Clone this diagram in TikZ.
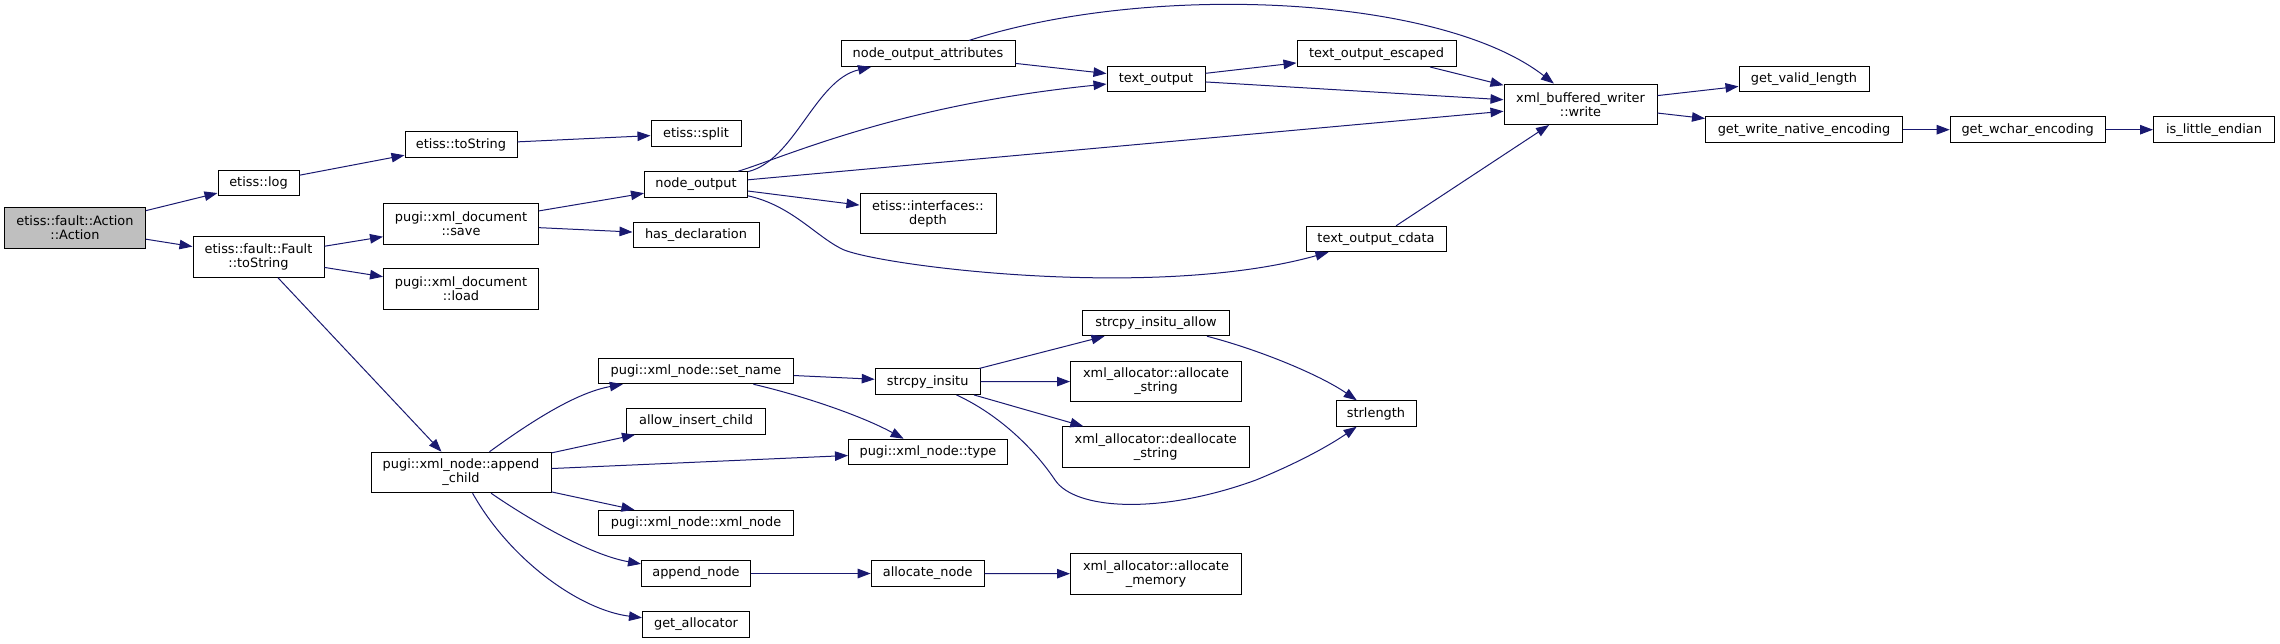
\documentclass[tikz,border=0pt]{standalone}
\usepackage{fontspec}
\setmainfont{DejaVu Sans}
\usepackage{tikz}
\usepackage{xcolor}
\usetikzlibrary{arrows.meta}
\definecolor{edgeblue}{HTML}{191970}
\definecolor{rootgrey}{HTML}{BFBFBF}

\begin{document}
\begin{tikzpicture}[x=1pt,y=-1pt,>={Triangle[length=13pt,width=9.5pt]},
  fn/.style={draw=black,line width=1pt,fill=white,inner sep=0pt,align=center,
    font=\fontsize{12.9}{14}\selectfont,minimum height=25.5},
  fn2/.style={fn,minimum height=40.5},
  calls/.style={->,edgeblue,line width=1pt}]
  \useasboundingbox (0,0) rectangle (2280,643);

  \node[fn2,fill=rootgrey,minimum width=141] (act) at (75,228) {etiss::fault::Action\\::Action};
  \node[fn,minimum width=81] (elog) at (258.5,183) {etiss::log};
  \node[fn2,minimum width=131] (fts) at (258.5,257) {etiss::fault::Fault\\::toString};
  \node[fn,minimum width=112] (ets) at (461,144.5) {etiss::toString};
  \node[fn2,minimum width=155] (dsave) at (461,224) {pugi::xml\_document\\::save};
  \node[fn2,minimum width=155] (dload) at (461,289) {pugi::xml\_document\\::load};
  \node[fn2,minimum width=180] (appch) at (461,472.5) {pugi::xml\_node::append\\\_child};
  \node[fn,minimum width=90] (split) at (696,133.5) {etiss::split};
  \node[fn,minimum width=103] (nout) at (696,184.5) {node\_output};
  \node[fn,minimum width=126] (hdecl) at (696,235) {has\_declaration};
  \node[fn,minimum width=195] (setn) at (696,371) {pugi::xml\_node::set\_name};
  \node[fn,minimum width=139] (allow) at (696,421.5) {allow\_insert\_child};
  \node[fn,minimum width=195] (xnode) at (696,523) {pugi::xml\_node::xml\_node};
  \node[fn,minimum width=109] (appn) at (696,573.5) {append\_node};
  \node[fn,minimum width=107] (getal) at (696,624.5) {get\_allocator};
  \node[fn,minimum width=174] (natt) at (928,53.7) {node\_output\_attributes};
  \node[fn2,minimum width=136] (depth) at (928,213.7) {etiss::interfaces::\\depth};
  \node[fn,minimum width=105] (scpy) at (927.7,381.7) {strcpy\_insitu};
  \node[fn,minimum width=159] (ntype) at (928,452) {pugi::xml\_node::type};
  \node[fn,minimum width=113] (alloc) at (927.7,573.5) {allocate\_node};
  \node[fn,minimum width=98] (tout) at (1156,79) {text\_output};
  \node[fn,minimum width=147] (sallow) at (1156,323) {strcpy\_insitu\_allow};
  \node[fn2,minimum width=171] (astr) at (1156,381.5) {xml\_allocator::allocate\\\_string};
  \node[fn2,minimum width=187] (dstr) at (1155.7,447) {xml\_allocator::deallocate\\\_string};
  \node[fn2,minimum width=171] (amem) at (1156,573.8) {xml\_allocator::allocate\\\_memory};
  \node[fn,minimum width=159] (tesc) at (1376.5,53.7) {text\_output\_escaped};
  \node[fn,minimum width=140] (tcdata) at (1376,239) {text\_output\_cdata};
  \node[fn,minimum width=80] (slen) at (1376,413.5) {strlength};
  \node[fn2,minimum width=153] (write) at (1580.5,104.3) {xml\_buffered\_writer\\::write};
  \node[fn,minimum width=130] (gvl) at (1804,79) {get\_valid\_length};
  \node[fn,minimum width=197] (gwne) at (1804,129.7) {get\_write\_native\_encoding};
  \node[fn,minimum width=155] (gwce) at (2027.7,129.7) {get\_wchar\_encoding};
  \node[fn,minimum width=121] (ile) at (2214,129.7) {is\_little\_endian};

  \foreach \a/\b in {act/elog,act/fts,elog/ets,ets/split,fts/dsave,fts/dload,fts/appch,
      dsave/nout,dsave/hdecl,nout/write,nout/depth,natt/tout,tout/tesc,tout/write,
      tesc/write,tcdata/write,write/gvl,write/gwne,gwne/gwce,gwce/ile,appch/allow,
      appch/ntype,appch/xnode,setn/scpy,scpy/sallow,scpy/astr,scpy/dstr,appn/alloc,alloc/amem}
    \draw[calls] (\a) -- (\b);

  \draw[calls] (nout) .. controls (795,160) and (815,80) .. (natt);
  \draw[calls] (nout) .. controls (790,155) and (900,105) .. (tout);
  \draw[calls] (nout) .. controls (790,205) and (815,235) .. (840,248)
    .. controls (865,264) and (1150,302) .. (tcdata);
  \draw[calls] (natt) .. controls (1150,-18) and (1440,-5) .. (write);
  \draw[calls] (appch) .. controls (540,415) and (580,392) .. (setn);
  \draw[calls] (appch) .. controls (530,520) and (590,555) .. (appn);
  \draw[calls] (appch) .. controls (510,560) and (580,610) .. (getal);
  \draw[calls] (setn) .. controls (800,395) and (860,415) .. (ntype);
  \draw[calls] (scpy) .. controls (1000,415) and (1035,450) .. (1055,480)
    .. controls (1075,510) and (1160,515) .. (1256,480)
    .. controls (1300,462) and (1330,445) .. (slen);
  \draw[calls] (sallow) .. controls (1260,350) and (1320,375) .. (slen);
\end{tikzpicture}
\end{document}
